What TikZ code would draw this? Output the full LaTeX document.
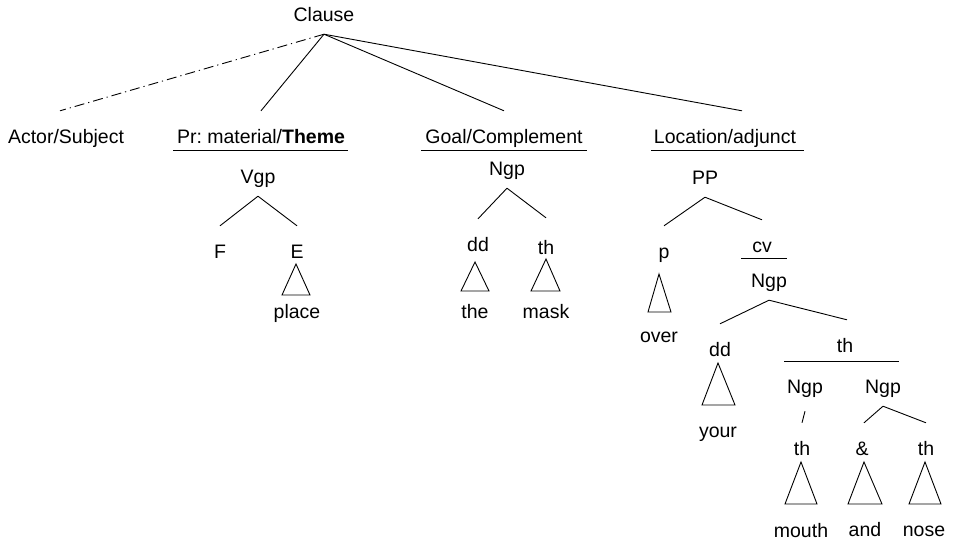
\documentclass[tikz,border=0pt]{standalone}
\usepackage{fontspec}
\setmainfont{Liberation Sans}
\usepackage{tikz}
\usetikzlibrary{calc}
\frenchspacing

\begin{document}
\begin{tikzpicture}[x=1pt, y=-1pt,
  word/.style={inner sep=0pt, anchor=base, text height=32pt, text depth=13pt, font=\fontsize{19.5}{23}\selectfont},
  leaf/.style={inner sep=0pt, anchor=base, font=\fontsize{19.5}{23}\selectfont},
  branch/.style={line width=0.9pt},
  rule/.style={line width=0.9pt},
  tri/.style={line width=0.9pt, line join=miter}
]
\useasboundingbox (0,0) rectangle (953,544);

\node[word] (clause) at (324,21) {Clause};

\node[word] (actor) at (66,143) {Actor/Subject};
\node[word] (pr) at (261,143) {Pr: material/\textbf{Theme}};
\node[word] (goal) at (504,143) {Goal/Complement};
\node[word] (loc) at (725,143) {Location/adjunct};

\node[word] (vgp) at (258,183) {Vgp};
\node[word] (f) at (220,258) {F};
\node[word] (e) at (297,258) {E};
\node[leaf] (place) at (297,318) {place};

\node[word] (ngpa) at (507,175) {Ngp};
\node[word] (dda) at (478,251) {dd};
\node[word] (tha) at (546,254) {th};
\node[leaf] (the) at (475,318) {the};
\node[leaf] (mask) at (546,318) {mask};

\node[word] (pp) at (705,184) {PP};
\node[word] (p) at (664,258) {p};
\node[leaf] (over) at (659,342) {over};
\node[word] (cv) at (762,252) {cv};
\node[word] (ngpb) at (769,287) {Ngp};
\node[word] (ddb) at (720,356) {dd};
\node[leaf] (your) at (718,437) {your};
\node[word] (thb) at (845,352) {th};
\node[word] (ngpc) at (805,393) {Ngp};
\node[word] (ngpd) at (883,393) {Ngp};
\node[word] (thc) at (802,455) {th};
\node[word] (amp) at (862,455) {\&};
\node[word] (thd) at (926,455) {th};
\node[leaf] (mouth) at (801,537) {mouth};
\node[leaf] (and) at (865,536) {and};
\node[leaf] (nose) at (924,536) {nose};

\draw[branch, dash pattern=on 10pt off 4pt on 1.2pt off 4pt] (clause.south) -- ([xshift=-6pt]actor.north);
\draw[branch] (clause.south) -- (pr.north);
\draw[branch] (clause.south) -- (goal.north);
\draw[branch] (clause.south) -- ([xshift=17pt]loc.north);

\draw[rule] ([shift={(-88pt,-7pt)}]pr.base) -- ++(175,0);
\draw[rule] ([shift={(-83pt,-7pt)}]goal.base) -- ++(166,0);
\draw[rule] ([shift={(-74pt,-7pt)}]loc.base) -- ++(153,0);

\draw[branch] (vgp.south) -- (f.north);
\draw[branch] (vgp.south) -- (e.north);
\draw[tri] ([shift={(-1pt,-6pt)}]e.base) -- ++(-14,31) -- ++(28,0) -- cycle;

\draw[branch] (ngpa.south) -- (dda.north);
\draw[branch] (ngpa.south) -- ([yshift=4pt]tha.north);
\draw[tri] ([shift={(-3pt,-11pt)}]dda.base) -- ++(-14,29) -- ++(28,0) -- cycle;
\draw[tri] ([yshift=-5pt]tha.base) -- ++(-15,32) -- ++(29,0) -- cycle;

\draw[branch] (pp.south) -- (p.north);
\draw[branch] (pp.south) -- (cv.north);
\draw[tri] ([shift={(-5pt,-16pt)}]p.base) -- ++(-11,38) -- ++(23,0) -- cycle;
\draw[rule] ([shift={(-21pt,-6pt)}]cv.base) -- ++(46,0);

\draw[branch] (ngpb.south) -- (ddb.north);
\draw[branch] (ngpb.south) -- ([xshift=2pt]thb.north);
\draw[tri] ([shift={(-2pt,-7pt)}]ddb.base) -- ++(-16,42) -- ++(33,0) -- cycle;
\draw[rule] ([shift={(-61pt,-9pt)}]thb.base) -- ++(115,0);

\draw[branch] ([yshift=-5pt]ngpc.south) -- (thc.north);
\draw[branch] (ngpd.south) -- ([xshift=2pt]amp.north);
\draw[branch] (ngpd.south) -- (thd.north);
\draw[tri] ([shift={(-1pt,-7pt)}]thc.base) -- ++(-16,42) -- ++(32,0) -- cycle;
\draw[tri] ([shift={(2pt,-7pt)}]amp.base) -- ++(-16,42) -- ++(34,0) -- cycle;
\draw[tri] ([shift={(-1pt,-7pt)}]thd.base) -- ++(-16,42) -- ++(32,0) -- cycle;
\end{tikzpicture}
\end{document}
